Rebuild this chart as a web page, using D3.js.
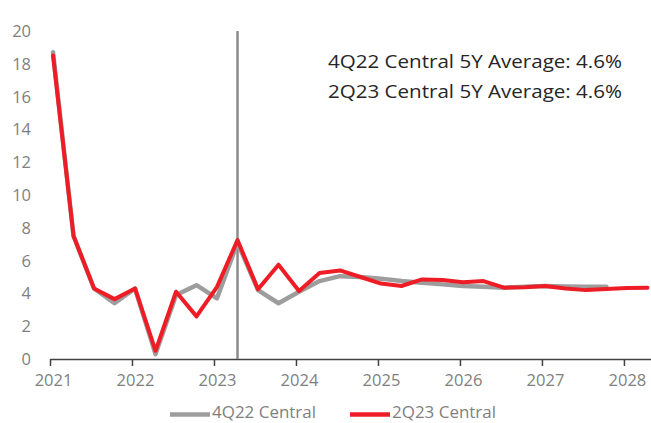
<!DOCTYPE html>
<html><head><meta charset="utf-8">
<script src="https://cdn.jsdelivr.net/npm/d3@7"></script>
<style>body{margin:0;background:#fff}svg{display:block}</style>
</head><body>
<script>
const quarters = ["2021Q1","2021Q2","2021Q3","2021Q4","2022Q1","2022Q2","2022Q3","2022Q4",
"2023Q1","2023Q2","2023Q3","2023Q4","2024Q1","2024Q2","2024Q3","2024Q4",
"2025Q1","2025Q2","2025Q3","2025Q4","2026Q1","2026Q2","2026Q3","2026Q4",
"2027Q1","2027Q2","2027Q3","2027Q4","2028Q1","2028Q2"];
const central4Q22 = [18.7,7.5,4.3,3.4,4.3,0.3,3.9,4.5,3.7,7.1,4.2,3.4,4.1,4.75,5.05,5.0,4.9,4.75,4.65,4.55,4.45,4.4,4.35,4.4,4.45,4.42,4.4,4.4];
const central2Q23 = [18.5,7.5,4.3,3.65,4.3,0.5,4.1,2.6,4.4,7.25,4.25,5.75,4.15,5.25,5.4,5.0,4.6,4.45,4.85,4.82,4.68,4.75,4.35,4.37,4.45,4.3,4.2,4.27,4.33,4.35];
const yTicks = [0,2,4,6,8,10,12,14,16,18,20];
const xTicks = [2021,2022,2023,2024,2025,2026,2027,2028];
const markerQuarter = "2023Q2";
const notes = ["4Q22 Central 5Y Average: 4.6%","2Q23 Central 5Y Average: 4.6%"];
const seriesNames = ["4Q22 Central","2Q23 Central"];
const colors = ["#9d9d9d","#ee1c25"];

const W=651,H=423;
const svg=d3.select("body").append("svg").attr("width",W).attr("height",H);
const toYear = q => +q.slice(0,4) + (+q.slice(5)-1)/4 + 0.037;
const x=d3.scaleLinear().domain([2021,2028.33]).range([50,651]);
const y=d3.scaleLinear().domain([0,20]).range([359,31]);
const font="'Open Sans', 'Liberation Sans', sans-serif";

// y tick labels
svg.append("g").selectAll("text").data(yTicks).join("text")
 .attr("x",31).attr("y",d=>y(d)).attr("dy","0.36em").attr("text-anchor","end")
 .attr("font-family",font).attr("font-size",16.5).attr("fill","#7f7f7f").text(d=>d);

// x axis
const xa=svg.append("g").attr("transform","translate(0,359)")
 .call(d3.axisBottom(x).tickValues(xTicks).tickFormat(d3.format("d")).tickSize(7).tickSizeOuter(0));
xa.select(".domain").attr("stroke","#404040").attr("stroke-width",1.5);
xa.selectAll(".tick line").attr("stroke","#404040").attr("stroke-width",1.5);
xa.selectAll(".tick text").attr("font-family",font).attr("font-size",16.5).attr("fill","#7f7f7f")
 .attr("dy","1.0em").attr("x",3);

// vertical marker
svg.append("line").attr("x1",x(toYear(markerQuarter))).attr("x2",x(toYear(markerQuarter)))
 .attr("y1",y(20)).attr("y2",y(0)).attr("stroke","#8c8c8c").attr("stroke-width",2.5);

const line=d3.line().x((d,i)=>x(toYear(quarters[i]))).y(d=>y(d));
[central4Q22,central2Q23].forEach((s,k)=>{
 svg.append("path").datum(s).attr("d",line).attr("fill","none")
  .attr("stroke",colors[k]).attr("stroke-width",k?4:4.5)
  .attr("stroke-linejoin","round").attr("stroke-linecap","round");
});

// notes
svg.append("g").selectAll("text").data(notes).join("text")
 .attr("x",328).attr("y",(d,i)=>68+i*30).attr("font-family",font).attr("font-size",17.5)
 .attr("fill","#262626").attr("textLength",294).attr("lengthAdjust","spacingAndGlyphs").text(d=>d);

// legend
const lg=svg.append("g");
const lx=[170,350];
seriesNames.forEach((n,k)=>{
 lg.append("line").attr("x1",lx[k]).attr("x2",lx[k]+40).attr("y1",414.5).attr("y2",414.5)
  .attr("stroke",colors[k]).attr("stroke-width",4.5);
 lg.append("text").attr("x",lx[k]+42).attr("y",418)
  .attr("font-family",font).attr("font-size",16.5).attr("fill","#7f7f7f")
  .attr("textLength",104).attr("lengthAdjust","spacingAndGlyphs").text(n);
});
</script>
</body></html>
